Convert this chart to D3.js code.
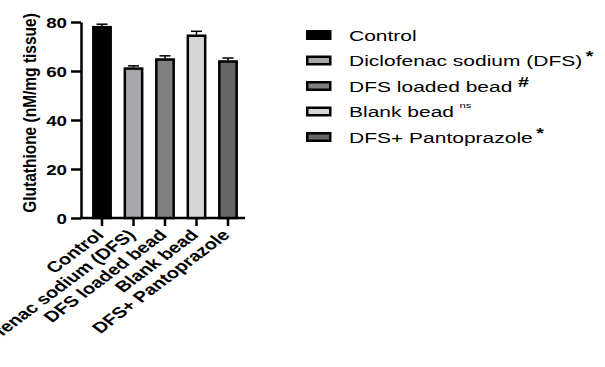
<!DOCTYPE html>
<html>
<head>
<meta charset="utf-8">
<script src="https://cdn.jsdelivr.net/npm/d3@7"></script>
<style>
  body { margin: 0; background: #fff; }
  svg { display: block; font-family: Arial, "Liberation Sans", sans-serif; }
</style>
</head>
<body>
<div id="chart"></div>
<script>
const groups = ["Control", "Diclofenac sodium (DFS)", "DFS loaded bead", "Blank bead", "DFS+ Pantoprazole"];
const means = [78.4, 61.5, 65.2, 74.9, 64.4];
const errors = [0.7, 0.6, 1.0, 1.3, 0.9];
const fills = ["#000000", "#a5a5aa", "#808080", "#d6d6d6", "#666666"];
const marks = ["", "*", "#", "ns", "*"];
const yTicks = [0, 20, 40, 60, 80];

const W = 605, H = 367;
const sx = 1.33; // picture is stretched sideways, text too

const svg = d3.select("#chart").append("svg")
  .attr("width", W)
  .attr("height", H);

const y = d3.scaleLinear().domain([0, 80]).range([218, 22]);
const x = d3.scaleBand().domain(groups)
  .range([86.25, 243.75])
  .paddingInner(0.37)
  .paddingOuter(0.185);

// y axis
const gy = svg.append("g")
  .attr("transform", "translate(81,0)")
  .call(d3.axisLeft(y).tickValues(yTicks).tickSize(10).tickSizeOuter(0).tickPadding(4));
gy.select(".domain").attr("stroke", "#000").attr("stroke-width", 2.5);
gy.selectAll(".tick line").attr("stroke", "#000").attr("stroke-width", 2.5);
gy.selectAll(".tick text")
  .attr("x", null).attr("dy", null)
  .attr("transform", `translate(-14,5.5) scale(1.25,1)`)
  .attr("fill", "#000")
  .style("font-size", "15px")
  .style("font-weight", "bold");

// x axis
const gx = svg.append("g")
  .attr("transform", `translate(0,${y(0)})`)
  .call(d3.axisBottom(x).tickSize(8).tickSizeOuter(0).tickFormat(""));
gx.select(".domain").attr("d", "M80,0H245").attr("stroke", "#000").attr("stroke-width", 2.5);
gx.selectAll(".tick line").attr("stroke", "#000").attr("stroke-width", 2.5);

gx.selectAll(".tick").append("text")
  .attr("fill", "#000")
  .attr("text-anchor", "end")
  .attr("transform", `translate(3,18) scale(${sx},1) rotate(-45)`)
  .style("font-size", "15.2px")
  .style("font-weight", "bold")
  .text(d => d);

// y title
svg.append("text")
  .attr("transform", `translate(36,${(22 + 218) / 2 - 7}) scale(1.2,1) rotate(-90)`)
  .attr("text-anchor", "middle")
  .attr("fill", "#000")
  .style("font-size", "15.5px")
  .style("font-weight", "bold")
  .text("Glutathione (nM/mg tissue)");

// bars
const bars = svg.append("g");
bars.selectAll("rect")
  .data(groups)
  .join("rect")
  .attr("x", d => x(d) + 1.25)
  .attr("y", (d, i) => y(means[i]) + 1.25)
  .attr("width", x.bandwidth() - 2.5)
  .attr("height", (d, i) => y(0) - y(means[i]) - 1.25)
  .attr("fill", (d, i) => fills[i])
  .attr("stroke", "#000")
  .attr("stroke-width", 2.5);

// error bars (upper only)
const errG = svg.append("g").attr("stroke", "#000").attr("stroke-width", 1.5);
errG.selectAll("line.stem")
  .data(groups)
  .join("line")
  .attr("class", "stem")
  .attr("x1", d => x(d) + x.bandwidth() / 2)
  .attr("x2", d => x(d) + x.bandwidth() / 2)
  .attr("y1", (d, i) => y(means[i]))
  .attr("y2", (d, i) => y(means[i] + errors[i]));
errG.selectAll("line.cap")
  .data(groups)
  .join("line")
  .attr("class", "cap")
  .attr("x1", d => x(d) + x.bandwidth() / 2 - 5.5)
  .attr("x2", d => x(d) + x.bandwidth() / 2 + 5.5)
  .attr("y1", (d, i) => y(means[i] + errors[i]))
  .attr("y2", (d, i) => y(means[i] + errors[i]));

// legend
const legend = svg.append("g").attr("transform", "translate(306,0)");
const rowY = d3.scalePoint().domain(groups).range([35, 137]);
const item = legend.selectAll("g.item")
  .data(groups)
  .join("g")
  .attr("class", "item")
  .attr("transform", d => `translate(0,${rowY(d)})`);

item.append("rect")
  .attr("x", 1.25)
  .attr("y", -3.75)
  .attr("width", 23)
  .attr("height", 7.5)
  .attr("fill", (d, i) => fills[i])
  .attr("stroke", "#000")
  .attr("stroke-width", 2.5);

const label = item.append("text")
  .attr("transform", `translate(43,5.5) scale(1.4,1)`)
  .attr("fill", "#000")
  .style("font-size", "15px");
label.append("tspan").text(d => d);
label.append("tspan")
  .attr("dx", (d, i) => marks[i] === "*" ? 2.5 : 4)
  .attr("dy", (d, i) => marks[i] === "ns" ? -9 : -5)
  .style("font-size", (d, i) => marks[i] === "ns" ? "8px" : "14px")
  .style("font-weight", (d, i) => marks[i] === "ns" ? "normal" : "bold")
  .text((d, i) => marks[i]);
</script>
</body>
</html>
